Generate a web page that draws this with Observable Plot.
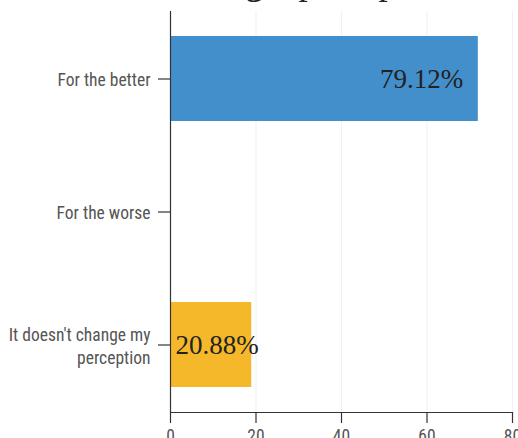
<!DOCTYPE html>
<html>
<head>
<meta charset="utf-8">
<script src="https://cdn.jsdelivr.net/npm/d3@7"></script>
<script src="https://cdn.jsdelivr.net/npm/@observablehq/plot@0.6"></script>
<style>
  html, body { margin: 0; padding: 0; background: #fff; overflow: hidden; }
  #wrap { position: relative; width: 518px; height: 438px; background: #fff; }
  #title { position: absolute; z-index: 2; left: 0; width: 518px; top: -37px; text-align: left; padding-left: 134px; box-sizing: border-box;
           font: 37px/37px "Liberation Serif", "DejaVu Serif", serif; color: #222; white-space: nowrap; }
  #chart { position: absolute; z-index: 1; left: 0; top: 0; }
</style>
</head>
<body>
<div id="wrap">
  <div id="title">Building a perception</div>
  <div id="chart"></div>
</div>
<script>
const categories = ["For the better", "For the worse", "It doesn't change my perception"];
const counts = [72, 0, 19];
const percentLabels = ["79.12%", "", "20.88%"];
const barColors = ["#438fcb", "#438fcb", "#f5b82a"];
const xTicks = [0, 20, 40, 60, 80];

const data = categories.map((c, i) => ({cat: c, count: counts[i], label: percentLabels[i], color: barColors[i]}));
const wrapLabel = d => d === "It doesn't change my perception" ? "It doesn't change my\nperception" : d;

const chart = Plot.plot({
  width: 518,
  height: 438,
  marginLeft: 170,
  marginRight: 6,
  marginTop: 11,
  marginBottom: 26,
  style: {fontFamily: "'Roboto Condensed', 'DejaVu Sans Condensed', 'Liberation Sans Narrow', Roboto, sans-serif", fontStretch: "condensed", fontSize: "17.5px", color: "#555", background: "transparent"},
  x: {domain: [0, 80], ticks: xTicks, label: null},
  y: {domain: categories, paddingInner: 0.36, paddingOuter: 0.18, label: null},
  color: {type: "identity"},
  marks: [
    Plot.gridX(xTicks.slice(1), {stroke: "#f1f1f1", strokeOpacity: 1}),
    Plot.barX(data, {x: "count", y: "cat", fill: "color"}),
    Plot.ruleX([0], {stroke: "#333", strokeWidth: 1.2}),
    Plot.frame({anchor: "bottom", stroke: "#333", strokeWidth: 1.2}),
    Plot.axisX({ticks: xTicks, tickSize: 11, tickPadding: 6, stroke: "#333", strokeWidth: 1.2, label: null, fill: "#555"}),
    Plot.axisY({tickSize: 12, tickPadding: 8, stroke: "#333", strokeWidth: 1.2, tickFormat: wrapLabel, lineHeight: 1.3, label: null, fill: "#555"}),
    Plot.text(data.filter(d => d.count >= 40), {x: "count", y: "cat", text: "label", textAnchor: "end", dx: -15, fontSize: 27, fontFamily: "'Liberation Serif', serif", fill: "#222"}),
    Plot.text(data.filter(d => d.count > 0 && d.count < 40), {x: 0, y: "cat", text: "label", textAnchor: "start", dx: 5, fontSize: 27, fontFamily: "'Liberation Serif', serif", fill: "#222"})
  ]
});
document.getElementById("chart").appendChild(chart);
</script>
</body>
</html>
